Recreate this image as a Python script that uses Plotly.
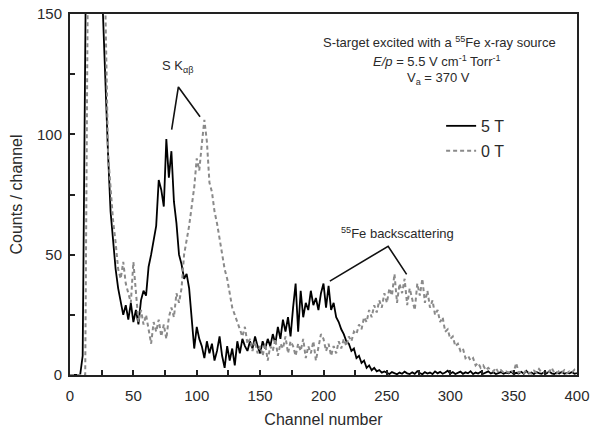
import plotly.graph_objects as go

channel = list(range(0, 401, 2))

counts_5T = [
    0, 0, 0, 0, 0, 8, 120, 260, 330, 360,
    340, 280, 200, 150, 118, 92, 68, 56, 44, 36,
    30, 25, 29, 23, 30, 22, 27, 21, 31, 35,
    33, 45, 50, 56, 62, 81, 77, 70, 98, 82,
    93, 72, 63, 50, 46, 40, 42, 36, 24, 11,
    20, 15, 12, 7, 14, 9, 13, 6, 10, 16,
    8, 3, 12, 6, 11, 4, 14, 9, 15, 12,
    10, 14, 11, 16, 12, 9, 14, 11, 15, 12,
    17, 13, 20, 15, 23, 18, 24, 16, 28, 38,
    18, 35, 24, 30, 27, 35, 29, 32, 27, 34,
    38, 28, 37, 27, 30, 24, 22, 19, 17, 14,
    13, 10, 11, 7, 8, 5, 6, 3, 4, 2,
    3, 1.5, 2, 1, 1.5,
    1, 0.4, 1.2, 0.6, 0.3, 1, 0.5, 1.4, 0.7, 0.4,
    1.1, 0.5, 1.6, 0.8, 0.3, 1.2, 0.6, 1, 0.4, 1.5,
    0.7, 1.3, 0.5, 1, 1.8, 0.6, 1.2, 0.4, 0.9, 1.4,
    0.5, 1.1, 0.7, 1.6, 0.4, 1, 0.6, 1.3, 0.5, 0.9,
    1.5, 0.6, 1.1, 0.4, 0.8, 1.2, 0.5, 1, 0.7, 1.4,
    0.4, 0.9, 0.6, 1.3, 0.5, 1.7, 0.6, 1, 0.4, 1.2,
    0.8, 0.5, 1.1, 0.6, 1.5, 0.7, 0.4, 1, 0.6, 1.3,
    0.5, 0.9, 0.7, 1.2, 0.5, 0.8,
]

counts_0T = [
    0, 0, 0, 0, 0, 0, 0, 160, 330, 380,
    390, 360, 290, 210, 150, 92, 78, 64, 55, 44,
    40, 47, 38, 34, 30, 47, 33, 22, 27, 21,
    25, 19, 13, 22, 18, 23, 16, 21, 15, 24,
    28, 24, 34, 30, 36, 50, 56, 62, 70, 78,
    90, 85, 96, 106, 97, 80, 76, 68, 63, 56,
    50, 44, 40, 34, 28, 25, 22, 19, 16, 20,
    13, 15, 10, 14, 9, 12, 8, 13, 6, 12,
    10, 15, 8, 13, 11, 16, 9, 14, 12, 8,
    13, 10, 15, 7, 12, 9, 14, 6, 12, 17,
    15, 10, 13, 8, 12, 9, 14, 11, 15, 12,
    16, 14, 18, 17, 21, 19, 24, 22, 27, 24,
    29, 26, 31, 28, 34, 30, 36, 33, 42, 30,
    38, 34, 40, 29, 36, 32, 27, 38, 33, 40,
    30, 35, 28, 31, 25, 27, 22, 24, 18, 19,
    15, 16, 12, 13, 10, 11, 7, 8, 6, 7,
    4, 5, 3, 4, 2, 3, 2, 1.5, 3, 1,
    2, 1, 1.5, 1, 2, 1, 5, 1, 1.5, 0.8,
    2, 1, 0.6, 1.8, 1, 2.5, 1, 0.8, 2, 1.2,
    3, 1, 0.6, 1.8, 1, 2, 0.7, 1.5, 1, 2.2,
    1,
]

series_names = ["5 T", "0 T"]

x_tickvals = list(range(0, 401, 25))
x_ticktext = [str(v) if v % 50 == 0 else "" for v in x_tickvals]
y_tickvals = list(range(0, 151, 25))
y_ticktext = [str(v) if v % 50 == 0 else "" for v in y_tickvals]

# annotation leader points (channel, counts)
ska_x = [80.2, 85.5, 102.6]
ska_y = [102, 119.7, 107.3]
fe_x = [205, 251, 265.6]
fe_y = [39, 53.5, 41.8]

FONT = "Liberation Sans, Arial, sans-serif"
TXT = "#2a2a2a"

fig = go.Figure()
fig.add_trace(go.Scatter(
    x=channel, y=counts_5T, mode="lines", name=series_names[0],
    line=dict(color="#000000", width=1.8), legendgroup="a"))
fig.add_trace(go.Scatter(
    x=channel, y=counts_0T, mode="lines", name=series_names[1],
    line=dict(color="#8a8a8a", width=2, dash="4px,3px"), legendgroup="b"))

fig.add_trace(go.Scatter(x=ska_x, y=ska_y, mode="lines", showlegend=False,
                         line=dict(color="#111111", width=1.6), hoverinfo="skip"))
fig.add_trace(go.Scatter(x=fe_x, y=fe_y, mode="lines", showlegend=False,
                         line=dict(color="#111111", width=1.6), hoverinfo="skip"))

axis_common = dict(
    showline=True, linewidth=2, linecolor="#222222", mirror=True,
    ticks="inside", ticklen=5, tickwidth=1.5, tickcolor="#222222",
    showgrid=False, zeroline=False, automargin=False,
    tickfont=dict(family=FONT, size=15, color=TXT),
)

fig.update_xaxes(range=[0, 400], tickvals=x_tickvals, ticktext=x_ticktext,
                 ticklabelstandoff=6,
                 title=dict(text="Channel number", font=dict(family=FONT, size=16, color=TXT), standoff=11),
                 **axis_common)
fig.update_yaxes(range=[0, 150], tickvals=y_tickvals, ticktext=y_ticktext,
                 ticklabelstandoff=3,
                 title=dict(text="Counts / channel", font=dict(family=FONT, size=16, color=TXT), standoff=10),
                 **axis_common)

ann_font = dict(family=FONT, size=13, color=TXT)
fig.add_annotation(x=(439 - 70) / 507, y=(375 - 42) / 361, xref="paper", yref="paper",
                   xanchor="center", yanchor="middle",
                   text="S-target excited with a <sup>55</sup>Fe x-ray source",
                   showarrow=False, font=ann_font)
fig.add_annotation(x=(437 - 70) / 507, y=(375 - 61) / 361, xref="paper", yref="paper",
                   xanchor="center", yanchor="middle",
                   text="<i>E/p</i> = 5.5 V cm<sup>-1</sup> Torr<sup>-1</sup>",
                   showarrow=False, font=ann_font)
fig.add_annotation(x=(438 - 70) / 507, y=(375 - 78) / 361, xref="paper", yref="paper",
                   xanchor="center", yanchor="middle",
                   text="V<sub>a</sub> = 370 V",
                   showarrow=False, font=ann_font)
fig.add_annotation(x=85, y=128, xref="x", yref="y", xanchor="center", yanchor="middle",
                   text="S K<sub>αβ</sub>", showarrow=False, font=ann_font)
fig.add_annotation(x=258, y=59, xref="x", yref="y", xanchor="center", yanchor="middle",
                   text="<sup>55</sup>Fe backscattering", showarrow=False, font=ann_font)

fig.update_layout(
    width=599, height=429,
    margin=dict(l=70, r=22, t=14, b=54),
    plot_bgcolor="white", paper_bgcolor="white",
    font=dict(family=FONT, color=TXT),
    legend=dict(x=0.732, y=0.737, xanchor="left", yanchor="top",
                font=dict(family=FONT, size=16, color=TXT),
                bgcolor="rgba(0,0,0,0)", tracegroupgap=1),
    showlegend=True,
)

fig.write_html("out.html")
